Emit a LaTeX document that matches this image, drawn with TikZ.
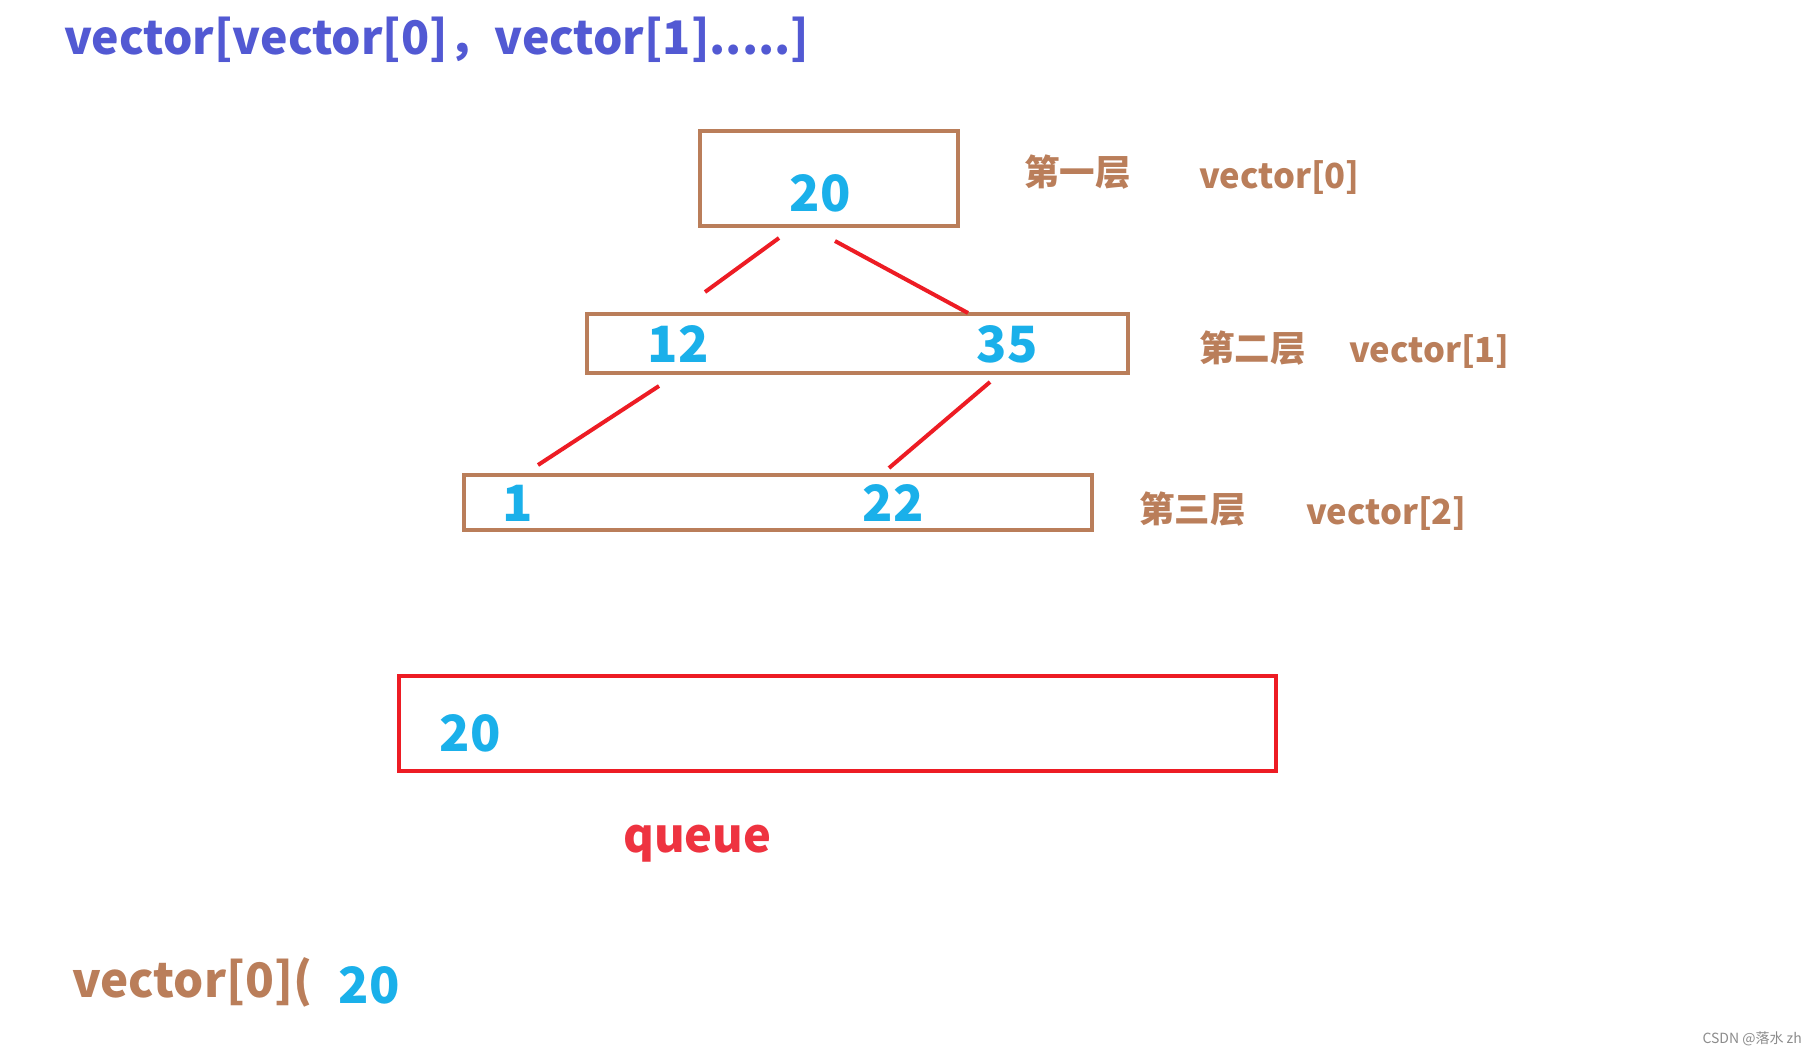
\documentclass[tikz,border=0pt]{standalone}
\usepackage{fontspec}
\setmainfont{Noto Sans CJK SC}
\usepackage{tikz}

\definecolor{titleblue}{RGB}{82,89,211}
\definecolor{boxbrown}{RGB}{186,126,90}
\definecolor{numcyan}{RGB}{26,176,234}
\definecolor{linered}{RGB}{237,28,36}
\definecolor{queuered}{RGB}{238,51,64}

\begin{document}
\begin{tikzpicture}[x=1pt,y=-1pt,
    level/.style={draw=boxbrown,line width=3.6pt,inner sep=0pt},
    num/.style={text=numcyan,inner sep=0pt,anchor=base,font=\bfseries\fontsize{50}{52}\selectfont},
    tag/.style={text=boxbrown,inner sep=0pt,anchor=base west,font=\bfseries\fontsize{34.5}{36}\selectfont},
    link/.style={draw=linered,line width=4pt}]
\useasboundingbox[fill=white] (0,0) rectangle (1817,1055);
% title
\node[text=titleblue,inner sep=0pt,anchor=base west,font=\bfseries\fontsize{46.3}{48}\selectfont] (title) at (64,54) {vector[vector[0]，vector[1].....]};
% layers
\node[level,minimum width=258pt,minimum height=95pt] (lv1) at (829,178.5) {};
\node[level,minimum width=541pt,minimum height=59pt] (lv2) at (857.5,343.5) {};
\node[level,minimum width=628pt,minimum height=55pt] (lv3) at (778,502.5) {};
\node[num] (n20) at (820,211) {20};
\node[num] (n12) at (678,362) {12};
\node[num] (n35) at (1007,362) {35};
\node[num] (n1) at (518,521) {1};
\node[num] (n22) at (893,521) {22};
\node[tag,font=\bfseries\fontsize{35.5}{37}\selectfont] (t1) at (1024,185) {第一层};
\node[tag] (v1) at (1199,188) {vector[0]};
\node[tag,font=\bfseries\fontsize{35.5}{37}\selectfont] (t2) at (1199,361) {第二层};
\node[tag] (v2) at (1349,362) {vector[1]};
\node[tag,font=\bfseries\fontsize{35.5}{37}\selectfont] (t3) at (1139,522) {第三层};
\node[tag] (v3) at (1306,524) {vector[2]};
% red strokes
\coordinate (a1) at (779,238); \coordinate (a2) at (705,292);
\coordinate (b1) at (835,241); \coordinate (b2) at (968,313);
\coordinate (c1) at (659,386); \coordinate (c2) at (538,465);
\coordinate (d1) at (990,382); \coordinate (d2) at (889,468);
\draw[link] (a1) -- (a2);
\draw[link] (b1) -- (b2);
\draw[link] (c1) -- (c2);
\draw[link] (d1) -- (d2);
% queue
\node[draw=linered,line width=3.8pt,minimum width=877pt,minimum height=95pt,inner sep=0pt] (q) at (837.5,723.5) {};
\node[num] (q20) at (470,751) {20};
\node[text=queuered,inner sep=0pt,anchor=base west,font=\bfseries\fontsize{47}{49}\selectfont] (qname) at (623,852) {queue};
% result
\node[text=boxbrown,inner sep=0pt,anchor=base west,font=\bfseries\fontsize{47.5}{49}\selectfont] (res) at (72,997) {vector[0](};
\node[num] (r20) at (369,1003) {20};
\node[text=black!45,inner sep=0pt,anchor=base east,font=\fontsize{14}{16}\selectfont] (mark) at (1802,1043) {CSDN @落水 zh};
\end{tikzpicture}
\end{document}
